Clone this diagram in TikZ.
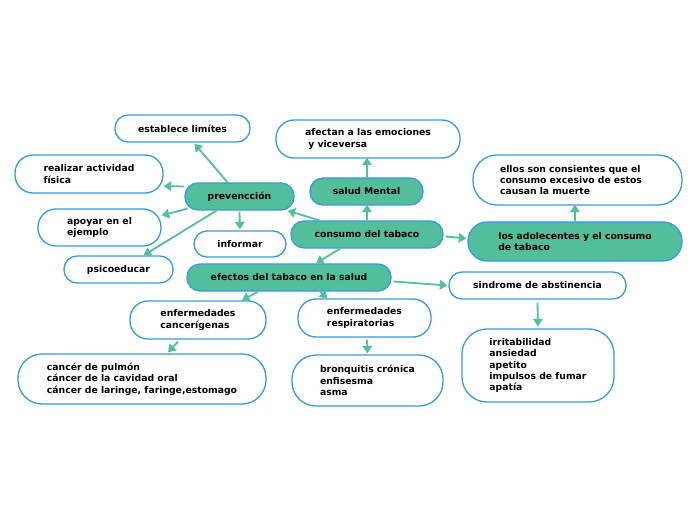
\documentclass[tikz,border=0pt]{standalone}
\usepackage{fontspec}
\setmainfont{DejaVu Sans}[BoldFont={DejaVu Sans Bold}]
\usetikzlibrary{arrows.meta,calc}
\definecolor{teal1}{HTML}{52BE9E}
\definecolor{edge}{HTML}{3A9BDC}
\definecolor{arr}{HTML}{52C0A0}
\begin{document}
\begin{tikzpicture}[x=1bp,y=-1bp,
  box/.style={draw=edge,line width=1.3bp,fill=white,align=left,inner sep=0pt,
    font=\bfseries\fontsize{9.3}{11.4}\selectfont,text=black},
  tbox/.style={box,fill=teal1},
  conn/.style={draw=arr,line width=1.8bp,-{Triangle[width=9.5bp,length=7.5bp]}}]
\useasboundingbox (0,0) rectangle (696,520);
\fill[white] (0,0) rectangle (696,520);

\node[box,minimum width=135bp,minimum height=27bp,rounded corners=13bp] (lim) at (182.5,128.5) {establece limítes};
\node[box,minimum width=148bp,minimum height=38bp,rounded corners=18bp] (act) at (89,174) {realizar actividad\\física};
\node[tbox,minimum width=109bp,minimum height=27bp,rounded corners=13bp] (prev) at (239.5,196.5) {prevencción};
\node[box,minimum width=123bp,minimum height=37bp,rounded corners=18bp] (apo) at (99.5,227.5) {apoyar en el\\ejemplo};
\node[box,minimum width=92bp,minimum height=26bp,rounded corners=13bp] (inf) at (240,244) {informar};
\node[box,minimum width=109bp,minimum height=27bp,rounded corners=13bp] (psi) at (118.5,269.5) {psicoeducar};
\node[tbox,minimum width=204bp,minimum height=27bp,rounded corners=13bp] (efe) at (289,277.5) {efectos del tabaco en la salud};
\node[box,minimum width=184bp,minimum height=38bp,rounded corners=18bp] (afe) at (368,139) {afectan a las emociones\\\ y viceversa};
\node[tbox,minimum width=113bp,minimum height=27bp,rounded corners=13bp] (sal) at (366.5,191.5) {salud Mental};
\node[tbox,minimum width=152bp,minimum height=27bp,rounded corners=13bp] (con) at (367,234.5) {consumo del tabaco};
\node[box,minimum width=209bp,minimum height=50bp,rounded corners=24bp,text width=155bp] (ell) at (577.5,180) {ellos son consientes que el\\consumo excesivo de estos\\causan la muerte};
\node[tbox,minimum width=214bp,minimum height=39bp,rounded corners=19bp] (ado) at (575,241.5) {los adolecentes y el consumo\\de tabaco};
\node[box,minimum width=177bp,minimum height=27bp,rounded corners=13bp] (sin) at (537.5,285.5) {sindrome de abstinencia};
\node[box,minimum width=136bp,minimum height=38bp,rounded corners=18bp] (canc) at (198,320) {enfermedades\\cancerígenas};
\node[box,minimum width=133bp,minimum height=38bp,rounded corners=18bp] (resp) at (364.5,318) {enfermedades\\respiratorias};
\node[box,minimum width=248bp,minimum height=50bp,rounded corners=24bp] (cancer) at (142,379) {cancér de pulmón\\cáncer de la cavidad oral\\cáncer de laringe, faringe,estomago};
\node[box,minimum width=151bp,minimum height=51bp,rounded corners=24bp] (bron) at (367.5,380.5) {bronquitis crónica\\enfisesma\\asma};
\node[box,minimum width=152bp,minimum height=73bp,rounded corners=25bp] (irr) at (538,365.5) {irritabilidad\\ansiedad\\apetito\\impulsos de fumar\\apatía};

\draw[conn] ($(prev.north)+(-12,0)$) -- ($(lim.south)+(12,1)$);
\draw[conn] ($(prev.west)+(0,-10)$) -- ($(act.east)+(0,12)$);
\draw[conn] ($(prev.south west)+(3,-2)$) -- ($(apo.east)+(0,-12)$);
\draw[conn] ($(prev.south)+(-23,0)$) -- ($(psi.north)+(25,0)$);
\draw[conn] ($(prev.south)+(0,1)$) -- ($(inf.north)+(0,-1)$);
\draw[conn] ($(con.north west)+(29,0)$) -- ($(prev.south east)+(-7,0)$);
\draw[conn] (con.north) -- ($(con.north |- sal.south)+(0,-1)$);
\draw[conn] ($(sal.north)+(0.5,0)$) -- ($(sal.north |- afe.south)+(0.5,-1)$);
\draw[conn] ($(con.east)+(2,2)$) -- ($(ado.west)+(-1,-3)$);
\draw[conn] (ado.north) -- ($(ado.north |- ell.south)+(0,-1)$);
\draw[conn] ($(con.south)+(-27,0)$) -- ($(efe.north)+(27,0)$);
\draw[conn] ($(efe.south)+(-31,0)$) -- ($(canc.north)+(44,0)$);
\draw[conn] ($(efe.south)+(31,0)$) -- ($(resp.north)+(-37,0)$);
\draw[conn] ($(efe.east)+(2,4)$) -- ($(sin.west)+(-1,0)$);
\draw[conn] ($(sin.south)+(0,3)$) -- ($(irr.north)+(0,-2)$);
\draw[conn] ($(canc.south)+(-20,2)$) -- ($(cancer.north)+(26,-1)$);
\draw[conn] ($(resp.south)+(2.5,2)$) -- ($(bron.north)+(0,-1)$);
\end{tikzpicture}
\end{document}
